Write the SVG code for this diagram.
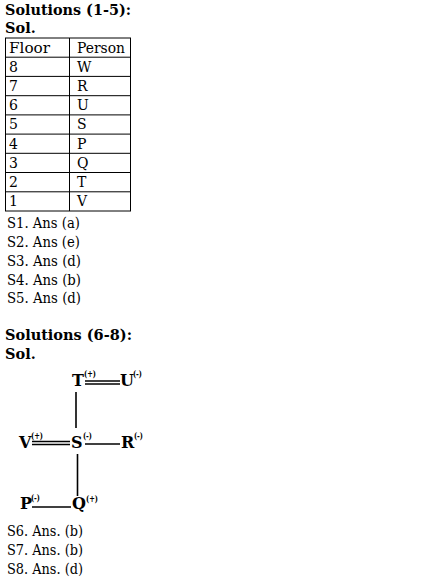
<svg xmlns="http://www.w3.org/2000/svg" width="424" height="578" viewBox="0 0 424 578">
<style>
text{font-family:"DejaVu Serif","Liberation Serif",serif;fill:#000}
.h{font-size:14.5px;font-weight:bold}
.b{font-size:14px}
.n{font-size:16px;font-weight:bold}
.sp{font-size:9px;font-weight:bold}
.grid line{stroke:#000;stroke-width:1}
.c line{stroke:#000;stroke-width:1.6}
</style>
<rect width="424" height="578" fill="#fff"/>
<text class="h" x="5" y="15" textLength="126" lengthAdjust="spacingAndGlyphs">Solutions (1-5):</text>
<text class="h" x="5" y="33">Sol.</text>
<g id="table" class="grid">
<line x1="5" y1="38" x2="131" y2="38"/>
<line x1="5" y1="57.2" x2="131" y2="57.2"/>
<line x1="5" y1="76.4" x2="131" y2="76.4"/>
<line x1="5" y1="95.7" x2="131" y2="95.7"/>
<line x1="5" y1="114.9" x2="131" y2="114.9"/>
<line x1="5" y1="134.1" x2="131" y2="134.1"/>
<line x1="5" y1="153.3" x2="131" y2="153.3"/>
<line x1="5" y1="172.5" x2="131" y2="172.5"/>
<line x1="5" y1="191.8" x2="131" y2="191.8"/>
<line x1="5" y1="211" x2="131" y2="211"/>
<line x1="5.5" y1="38" x2="5.5" y2="211"/>
<line x1="69.5" y1="38" x2="69.5" y2="211"/>
<line x1="130.5" y1="38" x2="130.5" y2="211"/>
<text class="b" x="9" y="52.5" textLength="41" lengthAdjust="spacingAndGlyphs">Floor</text>
<text class="b" x="77" y="52.5" textLength="48" lengthAdjust="spacingAndGlyphs">Person</text>
<text class="b" x="9" y="71.7">8</text><text class="b" x="77" y="71.7">W</text>
<text class="b" x="9" y="90.9">7</text><text class="b" x="77" y="90.9">R</text>
<text class="b" x="9" y="110.1">6</text><text class="b" x="77" y="110.1">U</text>
<text class="b" x="9" y="129.4">5</text><text class="b" x="77" y="129.4">S</text>
<text class="b" x="9" y="148.6">4</text><text class="b" x="77" y="148.6">P</text>
<text class="b" x="9" y="167.8">3</text><text class="b" x="77" y="167.8">Q</text>
<text class="b" x="9" y="187">2</text><text class="b" x="77" y="187">T</text>
<text class="b" x="9" y="206.3">1</text><text class="b" x="77" y="206.3">V</text>
</g>
<text class="b" x="7" y="228" textLength="73" lengthAdjust="spacingAndGlyphs">S1. Ans (a)</text>
<text class="b" x="7" y="247" textLength="73" lengthAdjust="spacingAndGlyphs">S2. Ans (e)</text>
<text class="b" x="7" y="265.5" textLength="74" lengthAdjust="spacingAndGlyphs">S3. Ans (d)</text>
<text class="b" x="7" y="284.5" textLength="74" lengthAdjust="spacingAndGlyphs">S4. Ans (b)</text>
<text class="b" x="7" y="303" textLength="74" lengthAdjust="spacingAndGlyphs">S5. Ans (d)</text>
<text class="h" x="5" y="340" textLength="127" lengthAdjust="spacingAndGlyphs">Solutions (6-8):</text>
<text class="h" x="5" y="359">Sol.</text>
<g id="connectors" class="c">
<line x1="85" y1="381" x2="120" y2="381"/>
<line x1="85" y1="384" x2="120" y2="384"/>
<line x1="76" y1="392" x2="76" y2="428"/>
<line x1="32" y1="441.5" x2="70" y2="441.5"/>
<line x1="32" y1="444.5" x2="70" y2="444.5"/>
<line x1="85" y1="444" x2="120" y2="444"/>
<line x1="77.5" y1="454" x2="77.5" y2="496"/>
<line x1="32" y1="507" x2="71" y2="507"/>
</g>
<g id="T"><text class="n" x="72" y="386">T</text><text class="sp" x="84" y="377" textLength="12" lengthAdjust="spacingAndGlyphs">(+)</text></g>
<g id="U"><text class="n" x="120" y="386">U</text><text class="sp" x="133" y="377" textLength="9" lengthAdjust="spacingAndGlyphs">(-)</text></g>
<g id="V"><text class="n" x="19" y="448">V</text><text class="sp" x="31" y="439" textLength="12" lengthAdjust="spacingAndGlyphs">(+)</text></g>
<g id="S"><text class="n" x="71" y="448">S</text><text class="sp" x="83" y="439" textLength="9" lengthAdjust="spacingAndGlyphs">(-)</text></g>
<g id="R"><text class="n" x="121" y="448">R</text><text class="sp" x="134" y="439" textLength="9" lengthAdjust="spacingAndGlyphs">(-)</text></g>
<g id="P"><text class="n" x="20" y="509">P</text><text class="sp" x="31" y="501" textLength="9" lengthAdjust="spacingAndGlyphs">(-)</text></g>
<g id="Q"><text class="n" x="72" y="509">Q</text><text class="sp" x="86" y="502" textLength="12" lengthAdjust="spacingAndGlyphs">(+)</text></g>
<text class="b" x="7" y="536" textLength="76" lengthAdjust="spacingAndGlyphs">S6. Ans. (b)</text>
<text class="b" x="7" y="555" textLength="76" lengthAdjust="spacingAndGlyphs">S7. Ans. (b)</text>
<text class="b" x="7" y="574" textLength="76" lengthAdjust="spacingAndGlyphs">S8. Ans. (d)</text>
</svg>
